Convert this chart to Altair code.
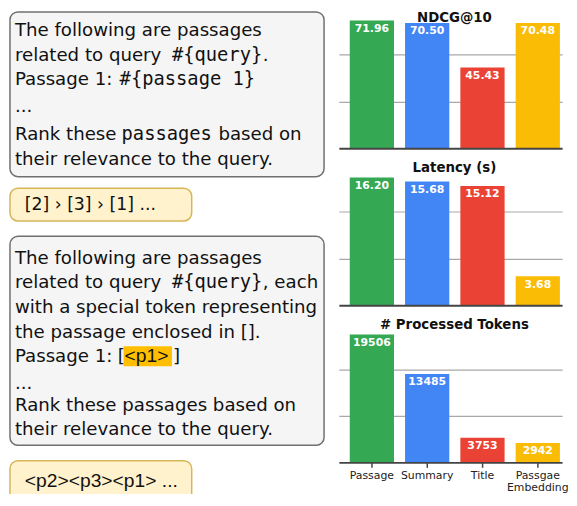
import altair as alt
import pandas as pd

# ---------------- data ----------------
methods = ["Passage", "Summary", "Title", "Passgae Embedding"]
bar_colors = ["#34A853", "#4285F4", "#EA4335", "#FBBC05"]
ndcg = [71.96, 70.50, 45.43, 70.48]
latency = [16.20, 15.68, 15.12, 3.68]
tokens = [19506, 13485, 3753, 2942]

panel_titles = ["NDCG@10", "Latency (s)", "# Processed Tokens"]
panel_formats = [".2f", ".2f", "d"]

# prompt text segments: (line, x, text, style)
prompt_a = [
    (0, 15, "The following are passages", "sans"),
    (1, 15, "related to query", "sans"),
    (1, 174, "#{query}", "mono"),
    (1, 266, ".", "sans"),
    (2, 15, "Passage 1:", "sans"),
    (2, 121, "#{passage 1}", "mono"),
    (3, 15, "...", "sans"),
    (4, 15, "Rank these", "sans"),
    (4, 123, "passages", "mono"),
    (4, 221, "based on", "sans"),
    (5, 15, "their relevance to the query.", "sans"),
]
prompt_a_baselines = [34, 59.5, 85, 113, 141.5, 167.5]

prompt_b = [
    (0, 15, "The following are passages", "sans"),
    (1, 15, "related to query", "sans"),
    (1, 174, "#{query}", "mono"),
    (1, 266, ", each", "sans"),
    (2, 15, "with a special token representing", "sans"),
    (3, 15, "the passage enclosed in [].", "sans"),
    (4, 15, "Passage 1:", "sans"),
    (4, 119, "[", "sans"),
    (4, 126, "<p1>", "lib"),
    (4, 175, "]", "sans"),
    (5, 15, "...", "sans"),
    (6, 15, "Rank these passages based on", "sans"),
    (7, 15, "their relevance to the query.", "sans"),
]
prompt_b_baselines = [271, 296, 322, 347.5, 372.5, 400, 423.5, 448.5]

output_a = [(25, 215, "[2] › [3] › [1] ...", "yel")]
output_b = [(25, 502, "<p2><p3><p1> ...", "lib")]

# ---------------- layout (page pixel coords) ----------------
OX, OY = 8, 8
W_L, H_ALL = 325, 489
VS = 0.975               # vertical squeeze of the left column so it fits the page
PANEL_W = 226
PANEL_H = [139, 146, 146]
PANEL_GAP = 13
TITLE_X = 117
BAR_PX = 129.5           # pixel height of tallest bar in each panel
GRID_PX = [47.25, 94.5]  # gridline heights above baseline


def lx(v):
    return v - OX


def ly(v):
    return (v - OY) * VS


boxes = pd.DataFrame({
    "x": [10, 10, 10, 10], "x2": [328, 194, 328, 194],
    "y": [9, 192, 242, 475], "y2": [180, 226, 459, 530],
    "fill": ["#f5f5f5", "#fff2cc", "#f5f5f5", "#fff2cc"],
    "stroke": ["#707070", "#d6b656", "#707070", "#d6b656"],
})
for c in ["x", "x2"]:
    boxes[c] = boxes[c].map(lx)
for c in ["y", "y2"]:
    boxes[c] = boxes[c].map(ly)

highlight = pd.DataFrame({"x": [lx(125)], "x2": [lx(174)], "y": [ly(356)], "y2": [ly(377)]})
frame = pd.DataFrame({"x": [0], "x2": [W_L], "y": [0], "y2": [H_ALL]})

rows = []
for line, x, t, s in prompt_a:
    rows.append({"x": lx(x), "y": ly(prompt_a_baselines[line]), "text": t, "style": s})
for line, x, t, s in prompt_b:
    rows.append({"x": lx(x), "y": ly(prompt_b_baselines[line]), "text": t, "style": s})
for x, y, t, s in output_a + output_b:
    rows.append({"x": lx(x), "y": ly(y), "text": t, "style": s})
seg_df = pd.DataFrame(rows)

xs = alt.Scale(domain=[0, W_L], range=[0, W_L], nice=False, zero=False)
ys = alt.Scale(domain=[0, H_ALL], range=[0, H_ALL], nice=False, zero=False)

frame_layer = alt.Chart(frame).mark_rect(opacity=0).encode(
    x=alt.X("x:Q", scale=xs, axis=None), x2="x2:Q",
    y=alt.Y("y:Q", scale=ys, axis=None), y2="y2:Q")

box_layer = alt.Chart(boxes).mark_rect(cornerRadius=8, strokeWidth=1.5, clip=True).encode(
    x=alt.X("x:Q", scale=xs, axis=None), x2="x2:Q",
    y=alt.Y("y:Q", scale=ys, axis=None), y2="y2:Q",
    fill=alt.Fill("fill:N", scale=None), stroke=alt.Stroke("stroke:N", scale=None))

hl_layer = alt.Chart(highlight).mark_rect(color="#FFBF00").encode(
    x=alt.X("x:Q", scale=xs, axis=None), x2="x2:Q",
    y=alt.Y("y:Q", scale=ys, axis=None), y2="y2:Q")

STYLES = {
    "sans": ("DejaVu Sans", 18.4),
    "mono": ("DejaVu Sans Mono", 19),
    "lib": ("Liberation Sans", 19.5),
    "yel": ("DejaVu Sans", 17.5),
}


def text_layer(style):
    font, size = STYLES[style]
    return alt.Chart(seg_df).transform_filter(alt.datum.style == style).mark_text(
        font=font, fontSize=size, align="left", baseline="alphabetic", color="#111111",
        clip=True
    ).encode(
        x=alt.X("x:Q", scale=xs, axis=None),
        y=alt.Y("y:Q", scale=ys, axis=None),
        text="text:N")


left = alt.layer(frame_layer, box_layer, hl_layer,
                 *[text_layer(s) for s in STYLES]).properties(width=W_L, height=H_ALL)


def bar_panel(values, title, fmt, height, show_labels):
    df = pd.DataFrame({"method": methods, "value": values, "color": bar_colors})
    ratio = max(values) / BAR_PX
    dom = height * ratio
    grid_vals = [g * ratio for g in GRID_PX]
    xaxis = alt.Axis(
        title=None, labelAngle=0, domainColor="#444444", domainWidth=2,
        ticks=show_labels, labels=show_labels, tickSize=5, tickColor="#444444",
        tickWidth=1.5, labelFont="DejaVu Sans", labelFontSize=11, labelColor="#222222",
        labelPadding=2, labelExpr="split(datum.label, ' ')", labelLineHeight=12,
        grid=False, zindex=1)
    yaxis = alt.Axis(values=grid_vals, grid=True, labels=False, ticks=False,
                     domain=False, title=None, gridColor="#a8a8a8", gridWidth=1.2)
    xenc = alt.X("method:N", sort=methods,
                 scale=alt.Scale(paddingInner=0.2, paddingOuter=0.118, align=0.833),
                 axis=xaxis)
    yenc = alt.Y("value:Q", scale=alt.Scale(domain=[0, dom], nice=False, zero=True), axis=yaxis)
    bars = alt.Chart(df).mark_bar().encode(
        x=xenc, y=yenc, color=alt.Color("color:N", scale=None))
    labels = alt.Chart(df).mark_text(
        color="white", fontWeight="bold", fontSize=11, font="DejaVu Sans",
        baseline="middle", dy=8.5
    ).encode(x=alt.X("method:N", sort=methods), y="value:Q",
             text=alt.Text("value:Q", format=fmt))
    ttl = alt.Chart(pd.DataFrame({"t": [title]})).mark_text(
        font="DejaVu Sans", fontSize=13.5, fontWeight="bold", color="#111111",
        baseline="alphabetic"
    ).encode(x=alt.value(TITLE_X), y=alt.value(11), text="t:N")
    return alt.layer(bars, labels, ttl).properties(width=PANEL_W, height=height)


series = [ndcg, latency, tokens]
panels = [bar_panel(series[i], panel_titles[i], panel_formats[i], PANEL_H[i], i == 2)
          for i in range(3)]

right = alt.vconcat(*panels, spacing=PANEL_GAP, bounds="flush")

chart = alt.hconcat(left, right, spacing=10, bounds="flush").properties(
    padding=0
).configure_view(stroke=None)

chart.save("out.html", embed_options={"renderer": "svg", "actions": False})
